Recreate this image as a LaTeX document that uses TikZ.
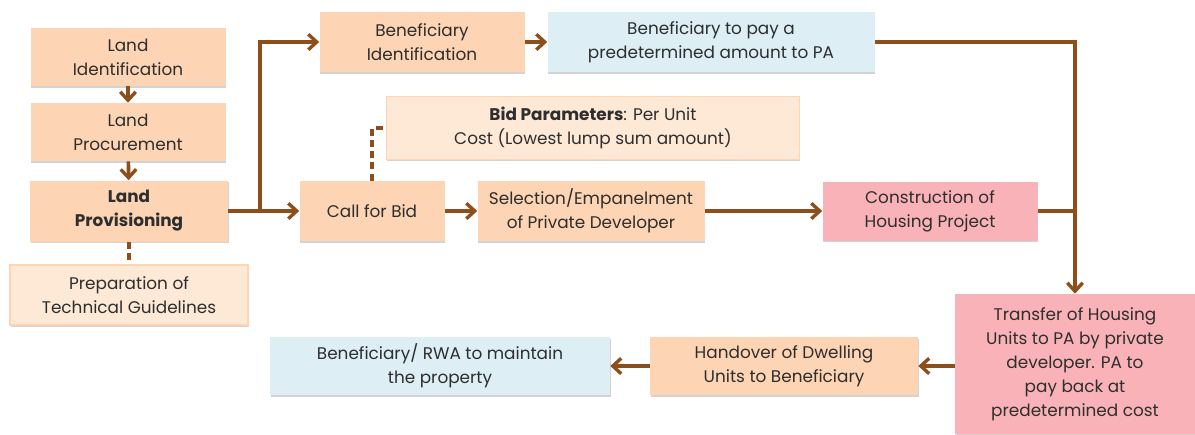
\documentclass[tikz,border=0pt]{standalone}
\usepackage{fontspec}
\setmainfont{Poppins}
\usetikzlibrary{arrows.meta,shadows}

\definecolor{peach}{HTML}{FDD4B4}
\definecolor{paleorange}{HTML}{FEE8D6}
\definecolor{paleblue}{HTML}{DDEEF5}
\definecolor{rose}{HTML}{F9B3B8}
\definecolor{arrowbrown}{HTML}{8E4E1B}
\definecolor{inkgray}{HTML}{2E2E2E}

\tikzset{
  box/.style 2 args={minimum width=#1*0.025cm, minimum height=#2*0.025cm,
    align=center, inner sep=2pt, text=inkgray, font=\fontsize{12}{17}\selectfont,
    drop shadow={shadow xshift=0.6pt, shadow yshift=-1.4pt, opacity=0.35}},
  peachbox/.style={fill=peach},
  lightbox/.style={fill=paleorange, draw=peach, line width=1.2pt},
  bluebox/.style={fill=paleblue},
  rosebox/.style={fill=rose},
  flow/.style={draw=arrowbrown, line width=2.6pt,
    -{Straight Barb[length=6pt,width=11pt,line width=2.4pt]}},
  link/.style={draw=arrowbrown, line width=2.6pt},
  dashlink/.style={draw=arrowbrown, line width=2.6pt, dash pattern=on 5pt off 3pt}
}

\begin{document}
\begin{tikzpicture}[x=0.025cm,y=-0.025cm]
      \useasboundingbox (0,0) rectangle (1195,434);
      % left column
      \node[box={195}{58},peachbox] (landid) at (128,57) {Land\\Identification};
      \node[box={195}{58},peachbox] (landproc) at (128,132) {Land\\Procurement};
      \node[box={198}{61},peachbox] (landprov) at (129,211) {\textbf{Land}\\\textbf{Provisioning}};
      \node[box={238}{60},lightbox] (guide) at (129,295) {Preparation of\\Technical Guidelines};
      % top row
      \node[box={205}{60},peachbox] (benid) at (422,42) {Beneficiary\\Identification};
      \node[box={327}{60},bluebox] (benpay) at (711,42) {Beneficiary to pay a\\predetermined amount to PA};
      \node[box={413}{63},lightbox] (bidpar) at (593,128) {\textbf{Bid Parameters}: Per Unit\\Cost (Lowest lump sum amount)};
      % middle row
      \node[box={145}{60},peachbox] (callbid) at (372,211) {Call for Bid};
      \node[box={227}{60},peachbox] (select) at (591,211) {Selection/Empanelment\\of Private Developer};
      \node[box={215}{59},rosebox] (constr) at (930,211) {Construction of\\Housing Project};
      % bottom row
      \node[box={240}{140},rosebox] (transfer) at (1075,364) {Transfer of Housing\\Units to PA by private\\developer. PA to\\pay back at\\predetermined cost};
      \node[box={268}{58},peachbox] (handover) at (784,366) {Handover of Dwelling\\Units to Beneficiary};
      \node[box={340}{58},bluebox] (maintain) at (440,366) {Beneficiary/ RWA to maintain\\the property};

      \coordinate (split) at (260,211);
      \draw[flow] (landid) -- (landproc);
      \draw[flow] (landproc) -- (landprov);
      \draw[dashlink] (landprov) -- (guide);
      \draw[flow] (landprov.east) -- (callbid.west);
      \draw[flow] (split) |- (benid.west);
      \draw[flow] (benid) -- (benpay);
      \draw[flow] (benpay.east) -| (transfer.north);
      \draw[link] (constr.east) -- (constr.east -| transfer.north);
      \draw[dashlink] (callbid.north) |- (bidpar.west);
      \draw[flow] (callbid) -- (select);
      \draw[flow] (select) -- (constr);
      \draw[flow] (transfer.west |- handover.east) -- (handover.east);
      \draw[flow] (handover) -- (maintain);
    \end{tikzpicture}
\end{document}
